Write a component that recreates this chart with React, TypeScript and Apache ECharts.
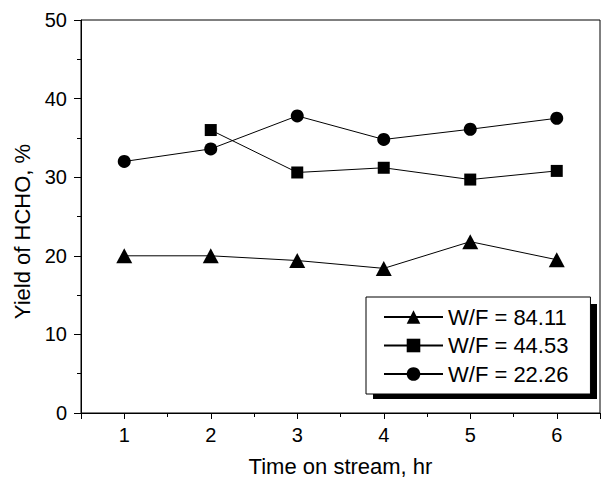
import React, { useEffect, useRef } from "react";
import * as echarts from "echarts";

const hours = [1, 2, 3, 4, 5, 6];
const seriesNames = ["W/F = 84.11", "W/F = 44.53", "W/F = 22.26"];
const wf8411 = [20.0, 20.0, 19.4, 18.4, 21.8, 19.5];
const wf4453: (number | null)[] = [null, 36.0, 30.6, 31.2, 29.7, 30.8];
const wf2226 = [32.0, 33.6, 37.8, 34.8, 36.1, 37.5];
const yTicks = [0, 10, 20, 30, 40, 50];

const FONT = "'Liberation Sans', Arial, Helvetica, sans-serif";

export default function App() {
  const ref = useRef<HTMLDivElement>(null);
  useEffect(() => {
    document.body.style.margin = "0";
    if (!ref.current) return;
    const chart = echarts.init(ref.current, null, { renderer: "svg" });
    const pair = (vals: (number | null)[]) =>
      hours.map((h, i) => [h, vals[i]]).filter((p) => p[1] !== null);
    const mk = (name: string, vals: (number | null)[], symbol: string, size: any) => ({
      name,
      type: "line",
      xAxisIndex: 0,
      data: pair(vals),
      symbol,
      symbolSize: size,
      showSymbol: true,
      itemStyle: { color: "#000" },
      lineStyle: { color: "#000", width: 1 },
      emphasis: { disabled: true },
    });
    chart.setOption({
      animation: false,
      textStyle: { fontFamily: FONT, color: "#000" },
      grid: { left: 81, right: -2, top: 20, bottom: 64, show: true, borderColor: "#000", borderWidth: 1 },
      xAxis: [
        {
          type: "value",
          min: 0.5,
          max: 6.5,
          interval: 0.5,
          position: "bottom",
          axisLine: { show: true, lineStyle: { color: "#000", width: 1 } },
          axisTick: { show: true, length: 4, lineStyle: { color: "#000" } },
          axisLabel: { show: false },
          splitLine: { show: false },
          name: "Time on stream, hr",
          nameLocation: "middle",
          nameGap: 42,
          nameTextStyle: { fontFamily: FONT, fontSize: 22, color: "#000" },
        },
        {
          type: "value",
          min: 0.5,
          max: 6.5,
          splitNumber: 6,
          position: "bottom",
          axisLine: { show: false },
          axisTick: { show: true, length: 6, lineStyle: { color: "#000" } },
          axisLabel: {
            show: true,
            margin: 12,
            fontFamily: FONT,
            fontSize: 20,
            color: "#000",
            formatter: (v: number) => (hours.indexOf(v) >= 0 ? String(v) : ""),
          },
          splitLine: { show: false },
        },
      ],
      yAxis: {
        type: "value",
        min: yTicks[0],
        max: yTicks[yTicks.length - 1],
        interval: 10,
        axisLine: { show: true, lineStyle: { color: "#000", width: 1 } },
        axisTick: { show: true, length: 7, lineStyle: { color: "#000" } },
        minorTick: { show: true, splitNumber: 2, length: 4, lineStyle: { color: "#000" } },
        axisLabel: { margin: 14, fontFamily: FONT, fontSize: 20, color: "#000" },
        splitLine: { show: false },
        minorSplitLine: { show: false },
        name: "Yield of HCHO, %",
        nameLocation: "middle",
        nameGap: 48,
        nameTextStyle: { fontFamily: FONT, fontSize: 22, color: "#000", padding: [0, 30, 0, 0] },
      },
      legend: {
        show: true,
        orient: "vertical",
        left: 366,
        top: 297,
        padding: [9, 22, 9, 17],
        itemGap: 6.5,
        itemWidth: 59,
        itemHeight: 17,
        backgroundColor: "#fff",
        borderColor: "#000",
        borderWidth: 1,
        selectedMode: false,
        data: seriesNames,
        textStyle: { fontFamily: FONT, fontSize: 22, color: "#000", lineHeight: 21 },
      },
      graphic: [
        {
          type: "rect",
          z: 0,
          shape: { x: 373, y: 304, width: 224, height: 95 },
          style: { fill: "#000" },
        },
      ],
      series: [
        mk(seriesNames[0], wf8411, "triangle", [16, 15]),
        mk(seriesNames[1], wf4453, "rect", 12),
        mk(seriesNames[2], wf2226, "circle", 13),
      ],
    });
    return () => chart.dispose();
  }, []);
  return <div ref={ref} style={{ width: 603, height: 482 }} />;
}
